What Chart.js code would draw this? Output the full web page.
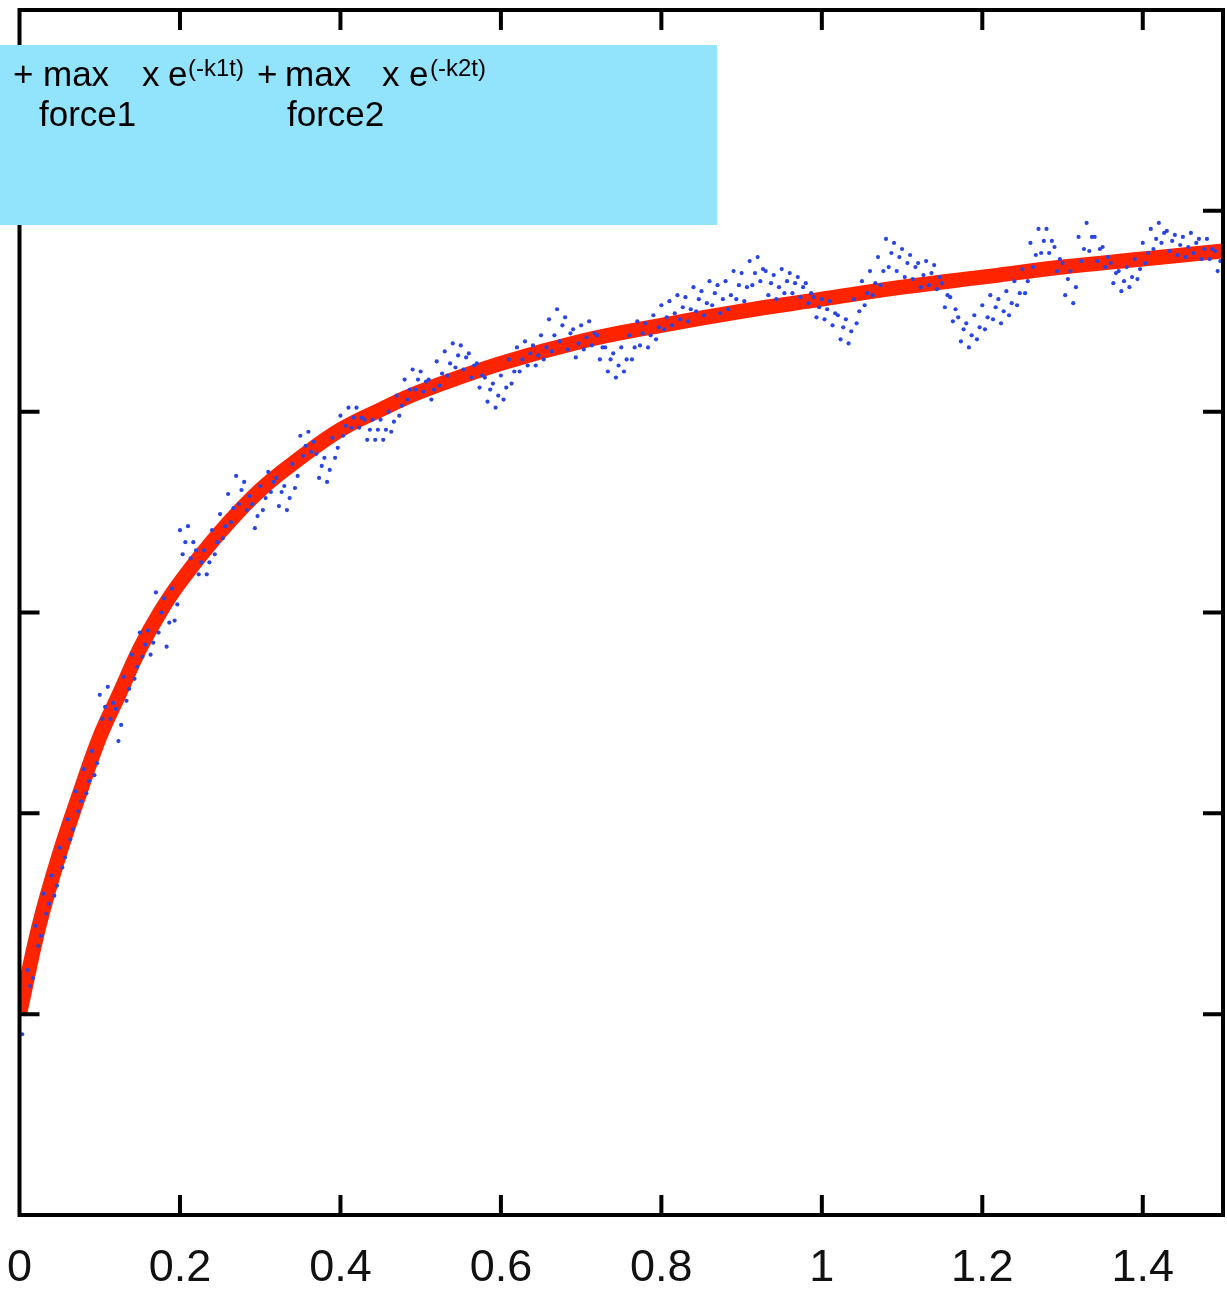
<!DOCTYPE html>
<html>
<head>
<meta charset="utf-8">
<script src="https://cdn.jsdelivr.net/npm/chart.js@4.4.0/dist/chart.umd.min.js"></script>
<style>
  html, body { margin: 0; padding: 0; background: #fff; }
  canvas { display: block; }
</style>
</head>
<body>
<canvas id="chart" width="1227" height="1292"></canvas>
<script>
// axis ticks
const xTickValues = [0, 0.2, 0.4, 0.6, 0.8, 1, 1.2, 1.4];
const xTickLabels = ['0', '0.2', '0.4', '0.6', '0.8', '1', '1.2', '1.4'];
const yTickValues = [1, 2, 3, 4, 5];

// fitted curve (red)
const redX = [0, 0.025, 0.05, 0.075, 0.1, 0.125, 0.15, 0.175, 0.2, 0.25, 0.3, 0.35, 0.4, 0.45, 0.5,
              0.6, 0.7, 0.8, 0.9, 1.0, 1.1, 1.2, 1.3, 1.4, 1.5];
const redY = [1.00, 1.45, 1.80, 2.10, 2.38, 2.60, 2.82, 3.00, 3.15, 3.40, 3.61, 3.77, 3.91, 4.01, 4.10,
              4.24, 4.35, 4.43, 4.50, 4.56, 4.62, 4.67, 4.72, 4.76, 4.80];

// measured trace (blue dots), read every 0.01 s: top, middle and bottom of the dot cloud
const blueStep = 0.01;
const blueHigh = [
  1.04,1.22,1.44,1.60,1.69,1.83,1.97,2.11,2.22,2.31,
  2.59,2.63,2.52,2.68,2.79,2.90,2.91,3.10,3.07,3.12,
  3.41,3.43,3.31,3.31,3.41,3.49,3.59,3.68,3.65,3.54,
  3.63,3.70,3.67,3.63,3.74,3.88,3.90,3.79,3.77,3.87,
  3.98,4.02,4.02,3.96,3.96,3.96,4.00,4.08,4.16,4.21,
  4.20,4.16,4.25,4.30,4.34,4.33,4.29,4.24,4.17,4.14,
  4.18,4.26,4.32,4.35,4.33,4.38,4.46,4.51,4.47,4.41,
  4.43,4.45,4.38,4.32,4.29,4.32,4.38,4.45,4.44,4.48,
  4.53,4.55,4.58,4.57,4.62,4.60,4.65,4.63,4.65,4.70,
  4.69,4.75,4.77,4.70,4.68,4.71,4.69,4.67,4.64,4.57,
  4.56,4.55,4.48,4.46,4.56,4.65,4.70,4.77,4.86,4.84,
  4.81,4.78,4.74,4.75,4.73,4.64,4.57,4.47,4.44,4.48,
  4.53,4.58,4.56,4.60,4.65,4.71,4.84,4.91,4.91,4.82,
  4.74,4.70,4.87,4.94,4.87,4.82,4.74,4.70,4.72,4.76,
  4.84,4.91,4.94,4.90,4.88,4.87,4.89,4.86,4.86,4.80,
  4.79
];
const blueMid = [
  1.00,1.18,1.39,1.55,1.64,1.78,1.92,2.06,2.16,2.25,
  2.53,2.55,2.44,2.62,2.73,2.84,2.85,3.00,2.95,3.04,
  3.35,3.35,3.25,3.25,3.35,3.43,3.52,3.61,3.58,3.48,
  3.57,3.65,3.60,3.57,3.68,3.83,3.85,3.73,3.71,3.82,
  3.93,3.97,3.97,3.91,3.91,3.91,3.95,4.03,4.11,4.16,
  4.15,4.11,4.19,4.24,4.28,4.27,4.23,4.18,4.11,4.08,
  4.12,4.20,4.26,4.29,4.28,4.32,4.38,4.43,4.39,4.34,
  4.37,4.39,4.32,4.26,4.23,4.26,4.32,4.39,4.38,4.42,
  4.47,4.49,4.52,4.51,4.56,4.54,4.59,4.56,4.58,4.63,
  4.62,4.69,4.71,4.64,4.62,4.65,4.64,4.62,4.59,4.52,
  4.51,4.49,4.42,4.40,4.50,4.59,4.64,4.70,4.79,4.77,
  4.74,4.72,4.68,4.69,4.67,4.58,4.51,4.41,4.38,4.42,
  4.47,4.52,4.50,4.54,4.59,4.65,4.78,4.85,4.85,4.76,
  4.66,4.62,4.81,4.87,4.81,4.77,4.69,4.65,4.67,4.71,
  4.79,4.86,4.89,4.85,4.83,4.82,4.84,4.81,4.81,4.75,
  4.74
];
const blueLow = [
  0.90,1.14,1.34,1.50,1.59,1.73,1.87,2.01,2.10,2.19,
  2.47,2.47,2.36,2.56,2.67,2.78,2.79,2.90,2.83,2.96,
  3.29,3.27,3.19,3.19,3.29,3.37,3.45,3.54,3.51,3.42,
  3.51,3.60,3.53,3.51,3.62,3.78,3.80,3.67,3.65,3.77,
  3.88,3.92,3.92,3.86,3.86,3.86,3.90,3.98,4.06,4.11,
  4.10,4.06,4.13,4.18,4.22,4.21,4.17,4.12,4.05,4.02,
  4.06,4.14,4.20,4.23,4.23,4.26,4.30,4.35,4.31,4.27,
  4.31,4.33,4.26,4.20,4.17,4.20,4.26,4.33,4.32,4.36,
  4.41,4.43,4.46,4.45,4.50,4.48,4.53,4.49,4.51,4.56,
  4.55,4.63,4.65,4.58,4.56,4.59,4.59,4.57,4.54,4.47,
  4.46,4.43,4.36,4.34,4.44,4.53,4.58,4.63,4.72,4.70,
  4.67,4.66,4.62,4.63,4.61,4.52,4.45,4.35,4.32,4.36,
  4.41,4.46,4.44,4.48,4.53,4.59,4.72,4.79,4.79,4.70,
  4.58,4.54,4.75,4.80,4.75,4.72,4.64,4.60,4.62,4.66,
  4.74,4.81,4.84,4.80,4.78,4.77,4.79,4.76,4.76,4.70,
  4.69
];

const TICK_LEN = 20;

// build point lists for the library
const redPoints = redX.map((x, i) => ({ x: x, y: redY[i] }));
const bluePoints = [];
blueMid.forEach((v, i) => {
  const x0 = i * blueStep;
  bluePoints.push({ x: x0, y: blueHigh[i] });
  bluePoints.push({ x: x0 + blueStep / 3, y: blueLow[i] });
  bluePoints.push({ x: x0 + 2 * blueStep / 3, y: v });
});

// frame with inward ticks on all four sides
const frameTicks = {
  id: 'frameTicks',
  afterDatasetsDraw(chart) {
    const { ctx, chartArea: a, scales } = chart;
    const x = scales.x, y = scales.y;
    ctx.save();
    ctx.strokeStyle = '#000';
    ctx.lineWidth = 4;
    ctx.beginPath();
    xTickValues.forEach(v => {
      const px = x.getPixelForValue(v);
      if (px <= a.left + 2 || px >= a.right - 2) return;
      ctx.moveTo(px, a.bottom); ctx.lineTo(px, a.bottom - TICK_LEN);
      ctx.moveTo(px, a.top); ctx.lineTo(px, a.top + TICK_LEN);
    });
    yTickValues.forEach(v => {
      const py = y.getPixelForValue(v);
      ctx.moveTo(a.left, py); ctx.lineTo(a.left + TICK_LEN, py);
      ctx.moveTo(a.right, py); ctx.lineTo(a.right - TICK_LEN, py);
    });
    ctx.stroke();
    ctx.strokeRect(a.left, a.top, a.right - a.left, a.bottom - a.top);
    ctx.restore();
  }
};

// the light blue equation box pasted over the top left
const equationBox = {
  id: 'equationBox',
  afterDraw(chart) {
    const ctx = chart.ctx;
    ctx.save();
    ctx.fillStyle = '#92e3fc';
    ctx.fillRect(0, 45, 717, 180);
    ctx.fillStyle = '#000';
    ctx.textBaseline = 'alphabetic';
    const big = '35px "Liberation Sans", Arial, sans-serif';
    const small = '24px "Liberation Sans", Arial, sans-serif';
    ctx.font = big;
    ctx.fillText('+', 13, 86);
    ctx.fillText('max', 43, 86);
    ctx.fillText('x', 142, 86);
    ctx.fillText('e', 168, 86);
    ctx.fillText('+', 257, 86);
    ctx.fillText('max', 285, 86);
    ctx.fillText('x', 382, 86);
    ctx.fillText('e', 409, 86);
    ctx.fillText('force1', 39, 126);
    ctx.fillText('force2', 287, 126);
    ctx.font = small;
    ctx.fillText('(-k1t)', 188, 76);
    ctx.fillText('(-k2t)', 430, 76);
    ctx.restore();
  }
};

new Chart(document.getElementById('chart'), {
  type: 'scatter',
  data: {
    datasets: [
      {
        label: 'measured',
        data: bluePoints,
        order: 0,
        showLine: false,
        pointRadius: 2.1,
        pointBorderWidth: 0,
        pointBackgroundColor: '#2a45e6',
        pointBorderColor: '#2a45e6'
      },
      {
        label: 'fit',
        type: 'line',
        data: redPoints,
        order: 1,
        borderColor: '#ff2400',
        borderWidth: 15,
        pointRadius: 0,
        fill: false,
        tension: 0.4
      }
    ]
  },
  options: {
    responsive: false,
    animation: false,
    layout: { padding: { left: 3, right: -1, top: 10, bottom: -11 } },
    plugins: {
      legend: { display: false },
      tooltip: { enabled: false }
    },
    scales: {
      x: {
        type: 'linear',
        min: 0,
        max: 1.5,
        grid: { display: false, drawTicks: true, tickLength: 20 },
        border: { display: false },
        afterBuildTicks: (scale) => {
          scale.ticks = xTickValues.map(v => ({ value: v }));
        },
        ticks: {
          padding: 7,
          color: '#111',
          font: { family: '"Liberation Sans", Arial, sans-serif', size: 45 },
          maxRotation: 0,
          autoSkip: false,
          callback: (value, index) => xTickLabels[index]
        }
      },
      y: {
        type: 'linear',
        min: 0,
        max: 6,
        display: false
      }
    }
  },
  plugins: [frameTicks, equationBox]
});
</script>
</body>
</html>
